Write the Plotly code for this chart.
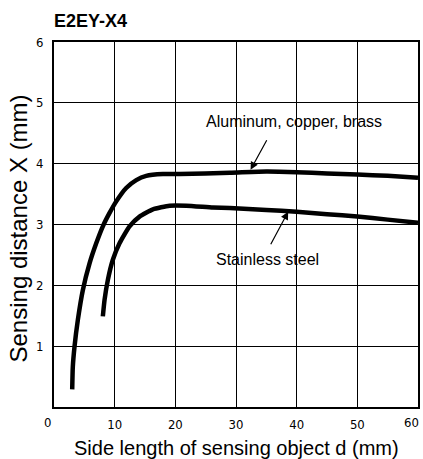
import plotly.graph_objects as go

# Data
alu_x = [3.0, 3.1, 3.38, 3.93, 4.75, 5.86, 6.96, 8.05, 9.16, 10.26, 11.9, 13.56, 15.2, 17.95, 20.7, 29.0, 35.0, 40.0, 45.0, 50.0, 55.0, 60.0]
alu_y = [0.29, 0.66, 0.99, 1.43, 1.92, 2.36, 2.69, 2.97, 3.19, 3.38, 3.6, 3.73, 3.8, 3.83, 3.83, 3.85, 3.87, 3.86, 3.84, 3.82, 3.8, 3.77]
ss_x = [8.05, 8.33, 8.88, 9.7, 10.8, 12.45, 14.1, 16.3, 19.06, 21.8, 26.2, 29.0, 35.0, 40.0, 45.0, 50.0, 55.0, 60.0]
ss_y = [1.49, 1.76, 2.09, 2.42, 2.69, 2.97, 3.13, 3.25, 3.31, 3.31, 3.28, 3.27, 3.24, 3.21, 3.17, 3.13, 3.08, 3.03]

x_ticks = [0, 10, 20, 30, 40, 50, 60]
y_ticks = [1, 2, 3, 4, 5, 6]

title_text = "E2EY-X4"
x_title = "Side length of sensing object d (mm)"
y_title = "Sensing distance X (mm)"
label_alu = "Aluminum, copper, brass"
label_ss = "Stainless steel"

FONT = "Liberation Sans, Arial, sans-serif"
TICKFONT = dict(family="DejaVu Sans Condensed, Liberation Sans Narrow, sans-serif", size=13, color="black")

fig = go.Figure()
line_style = dict(color="black", width=4.5, shape="spline", smoothing=0.5)
fig.add_trace(go.Scatter(x=alu_x, y=alu_y, mode="lines", line=line_style, name=label_alu, hoverinfo="skip"))
fig.add_trace(go.Scatter(x=ss_x, y=ss_y, mode="lines", line=line_style, name=label_ss, hoverinfo="skip"))

# Leader arrows and curve labels
fig.add_annotation(x=32.4, y=3.9, ax=35.2, ay=4.41, xref="x", yref="y", axref="x", ayref="y",
                   showarrow=True, arrowhead=2, arrowsize=1.3, arrowwidth=1.2, arrowcolor="black", text="")
fig.add_annotation(x=39.5, y=4.69, text=label_alu, showarrow=False,
                   font=dict(family=FONT, size=16, color="black"))
fig.add_annotation(x=38.6, y=3.21, ax=35.6, ay=2.65, xref="x", yref="y", axref="x", ayref="y",
                   showarrow=True, arrowhead=2, arrowsize=1.3, arrowwidth=1.2, arrowcolor="black", text="")
fig.add_annotation(x=35.2, y=2.42, text=label_ss, showarrow=False,
                   font=dict(family=FONT, size=16, color="black"))

# Chart title
fig.add_annotation(x=0, y=1.0, xref="paper", yref="paper", xanchor="left", yanchor="middle",
                   xshift=-2, yshift=21, text="<b>" + title_text + "</b>", showarrow=False,
                   font=dict(family=FONT, size=18, color="black"))

# Axis titles
fig.add_annotation(x=0.5, y=0, xref="paper", yref="paper", xanchor="center", yanchor="middle",
                   yshift=-41, text=x_title, showarrow=False,
                   font=dict(family=FONT, size=20, color="black"))
fig.add_annotation(x=0, y=0.5, xref="paper", yref="paper", xanchor="center", yanchor="middle",
                   xshift=-36, yshift=-4, text=y_title, textangle=-90, showarrow=False,
                   font=dict(family=FONT, size=24, color="black"))

# End x tick labels (drawn slightly left of their gridline, as in the reference)
inner_x = x_ticks[1:-1]
for v in (x_ticks[0], x_ticks[-1]):
    fig.add_annotation(x=v, y=0, xref="x", yref="paper", xanchor="center", yanchor="top",
                       xshift=-7, yshift=-6, text=str(v), showarrow=False, font=TICKFONT)

axis_common = dict(showgrid=True, gridcolor="black", gridwidth=1, zeroline=False,
                   showline=True, linecolor="black", linewidth=2, mirror=True,
                   ticks="", tickfont=TICKFONT, automargin=False)

fig.update_layout(
    width=423, height=459,
    margin=dict(l=54, r=5, t=42, b=52),
    paper_bgcolor="white", plot_bgcolor="white",
    showlegend=False,
    hovermode=False,
    xaxis=dict(range=[0, 60], tickvals=inner_x, ticktext=[str(v) for v in inner_x],
               ticklabelstandoff=4, **axis_common),
    yaxis=dict(range=[0, 6], tickvals=y_ticks, ticktext=[str(v) for v in y_ticks],
               ticklabelstandoff=6, **axis_common),
)

fig.write_html("out.html", config={"displayModeBar": False, "staticPlot": True},
               post_script="document.body.style.margin='0';document.body.style.padding='0';document.body.style.overflow='hidden';")
